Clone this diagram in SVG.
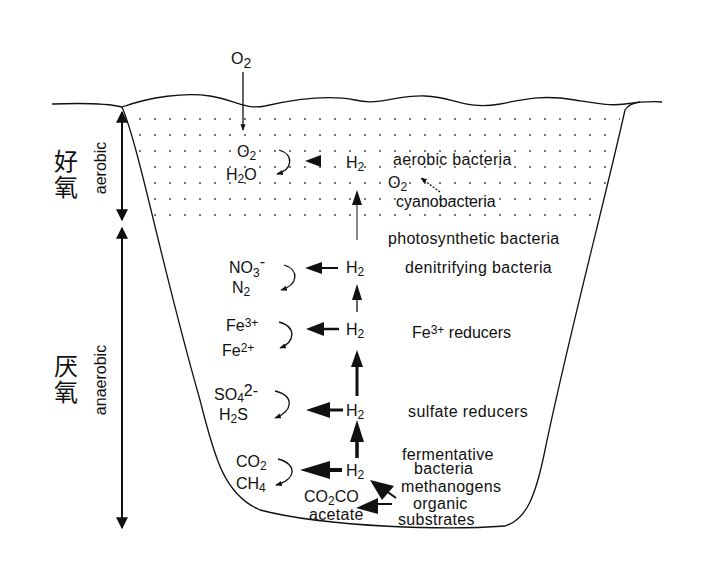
<svg xmlns="http://www.w3.org/2000/svg" width="709" height="563" viewBox="0 0 709 563">
<style>
text{font-family:"Liberation Sans",Arial,sans-serif;font-size:16px;fill:#111}
.s{font-size:12px}
.ln{fill:none;stroke:#111;stroke-width:1.3}
.cjk{font-family:"Noto Sans CJK SC",sans-serif;font-size:24px}
</style>
<defs>
<marker id="sm" viewBox="0 0 10 10" refX="9" refY="5" markerWidth="5" markerHeight="5" orient="auto"><path d="M0,1L10,5L0,9z" fill="#111"/></marker>
<marker id="dm" viewBox="0 0 10 10" refX="9" refY="5" markerWidth="6" markerHeight="9" orient="auto-start-reverse"><path d="M0,0L10,5L0,10z" fill="#111"/></marker>
<pattern id="dots" width="15" height="16" patternUnits="userSpaceOnUse" x="3" y="117"><circle cx="2" cy="2" r="0.9" fill="#333"/></pattern>
<clipPath id="basin"><path d="M122,107 C140,150 160,260 200,400 C215,460 225,495 260,510 C330,528 450,530 505,526 C525,520 535,500 545,450 C570,330 605,200 625,110 Z"/></clipPath>
</defs>
<rect x="120" y="115" width="500" height="110" fill="url(#dots)" clip-path="url(#basin)"/>
<g id="basin-outline">
<path class="ln" d="M52,104 C80,103 110,104 122,107 C150,97 185,92 210,96 C235,100 245,110 265,106 C300,98 330,95 355,100 C380,106 395,95 425,96 C455,97 465,110 500,104 C530,98 545,95 575,100 C600,104 610,106 625,104 C640,102 650,101 662,102"/>
<path class="ln" d="M122,107 C140,150 160,260 200,400 C215,460 225,495 260,510 C330,528 450,530 505,526 C525,520 535,500 545,450 C570,330 605,200 625,110 C628,105 632,103 640,102"/>
</g>
<g id="scale">
<line x1="122" y1="112" x2="122" y2="220" stroke="#111" stroke-width="2" marker-start="url(#dm)" marker-end="url(#dm)"/>
<line x1="122" y1="228" x2="122" y2="528" stroke="#111" stroke-width="2" marker-start="url(#dm)" marker-end="url(#dm)"/>
<text class="cjk" x="54" y="170">好</text><text class="cjk" x="54" y="196">氧</text>
<text transform="translate(106,168) rotate(-90)" text-anchor="middle">aerobic</text>
<text class="cjk" x="54" y="375">厌</text><text class="cjk" x="54" y="401">氧</text>
<text transform="translate(106,380) rotate(-90)" text-anchor="middle">anaerobic</text>
</g>
<g id="connectors">
<line x1="243" y1="72" x2="243" y2="130" stroke="#111" stroke-width="1.3" marker-end="url(#sm)"/>
<path class="ln" d="M279,150 C295,155 292,170 277,174" marker-end="url(#sm)"/>
<path d="M305,161L321,155L321,167z" fill="#111"/>
<path d="M440,192 L421,178" class="ln" stroke-dasharray="2,1.5" marker-end="url(#sm)"/>
<line x1="357" y1="240" x2="357" y2="193" stroke="#111" stroke-width="1"/><path d="M357,190L352,205L362,205z" fill="#111"/>
<path class="ln" d="M284,265 C300,270 298,285 281,290" marker-end="url(#sm)"/>
<path d="M305,268L322,262L322,274z" fill="#111"/><line x1="320" y1="268" x2="338" y2="268" stroke="#111" stroke-width="2"/>
<line x1="357" y1="312" x2="357" y2="300" stroke="#111" stroke-width="1.3"/><path d="M357,284L352,300L362,300z" fill="#111"/>
<path class="ln" d="M279,322 C297,327 295,342 280,348" marker-end="url(#sm)"/>
<path d="M306,329L324,322L324,336z" fill="#111"/><line x1="322" y1="329" x2="339" y2="329" stroke="#111" stroke-width="2.5"/>
<line x1="357" y1="396" x2="357" y2="365" stroke="#111" stroke-width="3"/><path d="M357,350L351,367L363,367z" fill="#111"/>
<path class="ln" d="M275,391 C295,396 293,411 275,418" marker-end="url(#sm)"/>
<path d="M306,410L330,402L330,418z" fill="#111"/><line x1="328" y1="410" x2="343" y2="410" stroke="#111" stroke-width="3"/>
<line x1="357" y1="458" x2="357" y2="440" stroke="#111" stroke-width="3.5"/><path d="M357,420L350,442L364,442z" fill="#111"/>
<path class="ln" d="M278,459 C298,464 296,480 276,485" marker-end="url(#sm)"/>
<path d="M300,470L330,461L330,479z" fill="#111"/><line x1="328" y1="470" x2="342" y2="470" stroke="#111" stroke-width="4"/>
<line x1="396" y1="498" x2="385" y2="490" stroke="#111" stroke-width="2"/><path d="M370,480L394,486L382,500z" fill="#111"/>
<line x1="392" y1="504" x2="375" y2="504" stroke="#111" stroke-width="2"/><path d="M356,508L378,498L378,514z" fill="#111"/>
</g>
<g id="labels">
<text x="231" y="64" font-size="18">O<tspan font-size="14" dy="4">2</tspan></text>
<text x="237" y="157">O<tspan class="s" dy="3">2</tspan></text>
<text x="226" y="180">H<tspan class="s" dy="3">2</tspan><tspan dy="-3">O</tspan></text>
<text x="346" y="168">H<tspan class="s" dy="3">2</tspan></text>
<text x="393" y="165" letter-spacing="0.3">aerobic bacteria</text>
<text x="388" y="188">O<tspan class="s" dy="3">2</tspan></text>
<text x="396" y="207">cyanobacteria</text>
<text x="388" y="244" letter-spacing="0.3">photosynthetic bacteria</text>
<text x="229" y="273">NO<tspan class="s" dy="4">3</tspan><tspan dy="-10">-</tspan></text>
<text x="232" y="293">N<tspan class="s" dy="3">2</tspan></text>
<text x="346" y="273">H<tspan class="s" dy="3">2</tspan></text>
<text x="405" y="273" letter-spacing="0.4">denitrifying bacteria</text>
<text x="226" y="331">Fe<tspan class="s" dy="-4">3+</tspan></text>
<text x="222" y="356">Fe<tspan class="s" dy="-4">2+</tspan></text>
<text x="346" y="335">H<tspan class="s" dy="3">2</tspan></text>
<text x="412" y="338">Fe<tspan class="s" dy="-4">3+</tspan><tspan dy="4"> reducers</tspan></text>
<text x="214" y="400">SO<tspan class="s" dy="2">4</tspan><tspan dy="-6">2-</tspan></text>
<text x="219" y="420">H<tspan class="s" dy="3">2</tspan><tspan dy="-3">S</tspan></text>
<text x="346" y="416">H<tspan class="s" dy="3">2</tspan></text>
<text x="408" y="417" letter-spacing="0.4">sulfate reducers</text>
<text x="236" y="467">CO<tspan class="s" dy="3">2</tspan></text>
<text x="236" y="489">CH<tspan class="s" dy="3">4</tspan></text>
<text x="346" y="476">H<tspan class="s" dy="3">2</tspan></text>
<text x="402" y="460" letter-spacing="0.3">fermentative</text>
<text x="414" y="474" letter-spacing="0.3">bacteria</text>
<text x="401" y="492" letter-spacing="0.3">methanogens</text>
<text x="413" y="509" letter-spacing="0.3">organic</text>
<text x="398" y="525" letter-spacing="0.3">substrates</text>
<text x="304" y="502">CO<tspan class="s" dy="3">2</tspan><tspan dy="-3">CO</tspan></text>
<text x="309" y="520" letter-spacing="0.3">acetate</text>
</g>
</svg>
